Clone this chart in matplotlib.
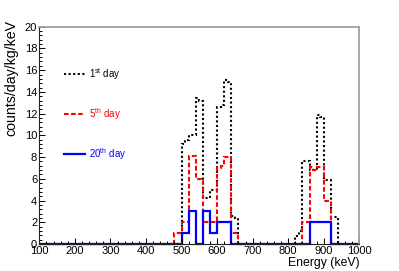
import matplotlib
matplotlib.use("Agg")
import matplotlib.pyplot as plt
from matplotlib.ticker import MultipleLocator

plt.rcParams['font.family'] = ['Liberation Sans', 'DejaVu Sans']
plt.rcParams['mathtext.fontset'] = 'custom'
plt.rcParams['mathtext.rm'] = 'Liberation Sans'
plt.rcParams['mathtext.default'] = 'regular'

# ---- data (energy bin edges in keV, counts/day/kg/keV per bin) ----
day1_edges = [100, 500, 510, 520, 540, 550, 560, 580, 600, 610, 620, 630, 640, 650, 660,
              820, 830, 840, 860, 880, 890, 900, 920, 940, 1000]
day1_vals = [0, 9.2, 9.6, 10.0, 13.4, 13.2, 4.2, 5.0, 12.6, 12.8, 15.1, 14.9, 2.6, 2.4,
             0, 0.7, 1.2, 7.6, 6.8, 11.9, 11.7, 5.9, 2.5, 0]

day5_edges = [100, 480, 500, 520, 540, 560, 600, 610, 620, 640, 660,
              840, 860, 870, 880, 900, 920, 1000]
day5_vals = [0, 1.0, 2.0, 8.1, 6.0, 2.0, 7.0, 7.2, 8.0, 1.0, 0,
             2.0, 7.1, 6.8, 7.1, 4.0, 0]

day20_edges = [100, 500, 520, 540, 560, 580, 600, 640, 860, 920, 1000]
day20_vals = [0, 1, 3, 0, 3, 1, 2, 0, 2, 0]

legend_labels = [r"1$^{st}$ day", r"5$^{th}$ day", r"20$^{th}$ day"]
legend_y = [15.65, 11.95, 8.3]

x_ticks = [100, 200, 300, 400, 500, 600, 700, 800, 900, 1000]
y_ticks = [0, 2, 4, 6, 8, 10, 12, 14, 16, 18, 20]

# ---- figure ----
W, H = 399, 271
fig = plt.figure(figsize=(W / 100, H / 100), dpi=100)
ax = fig.add_axes([39.3 / W, 1 - 244 / H, 320 / W, 217.3 / H])

styles = [
    dict(color='black', lw=1.5, linestyle=(0, (1, 1.2))),
    dict(color='#ff0000', lw=1.5, linestyle=(0, (2.2, 1.2))),
    dict(color='#0000ff', lw=1.6, linestyle='-'),
]
series = [(day1_edges, day1_vals), (day5_edges, day5_vals), (day20_edges, day20_vals)]
for (e, v), st in zip(series, styles):
    ax.stairs(v, e, baseline=None, clip_on=False, **st)

# legend drawn as in the original (line samples + coloured text)
for lab, yy, st in zip(legend_labels, legend_y, styles):
    ax.plot([170, 229], [yy, yy], **st)
    ax.text(240, yy, lab, color=st['color'], fontsize=7, va='center', ha='left')

ax.set_xlim(100, 1000)
ax.set_ylim(0, 20)
ax.set_xticks(x_ticks)
ax.set_yticks(y_ticks)
ax.xaxis.set_minor_locator(MultipleLocator(20))
ax.yaxis.set_minor_locator(MultipleLocator(0.4))
ax.tick_params(which='both', direction='in', top=False, right=False, labelsize=8)
ax.tick_params(which='major', length=4.2, width=0.7)
ax.tick_params(which='minor', length=2.2, width=0.7)
ax.tick_params(axis='x', pad=1.5)
ax.tick_params(axis='y', pad=1.5)

for s in ['left', 'bottom']:
    ax.spines[s].set_linewidth(0.8)
    ax.spines[s].set_color('#222222')
for s in ['top', 'right']:
    ax.spines[s].set_linewidth(1.3)
    ax.spines[s].set_color('#a0a0a0')

ax.set_xlabel("Energy (keV)", fontsize=8.8)
ax.xaxis.set_label_coords(1.0, -0.058)
ax.xaxis.label.set_ha('right')

ax.text(-0.087, 1.032, "counts/day/kg/keV", rotation=90, ha='center', va='top',
        fontsize=10.2, transform=ax.transAxes)

fig.savefig("out.png", dpi=100)
